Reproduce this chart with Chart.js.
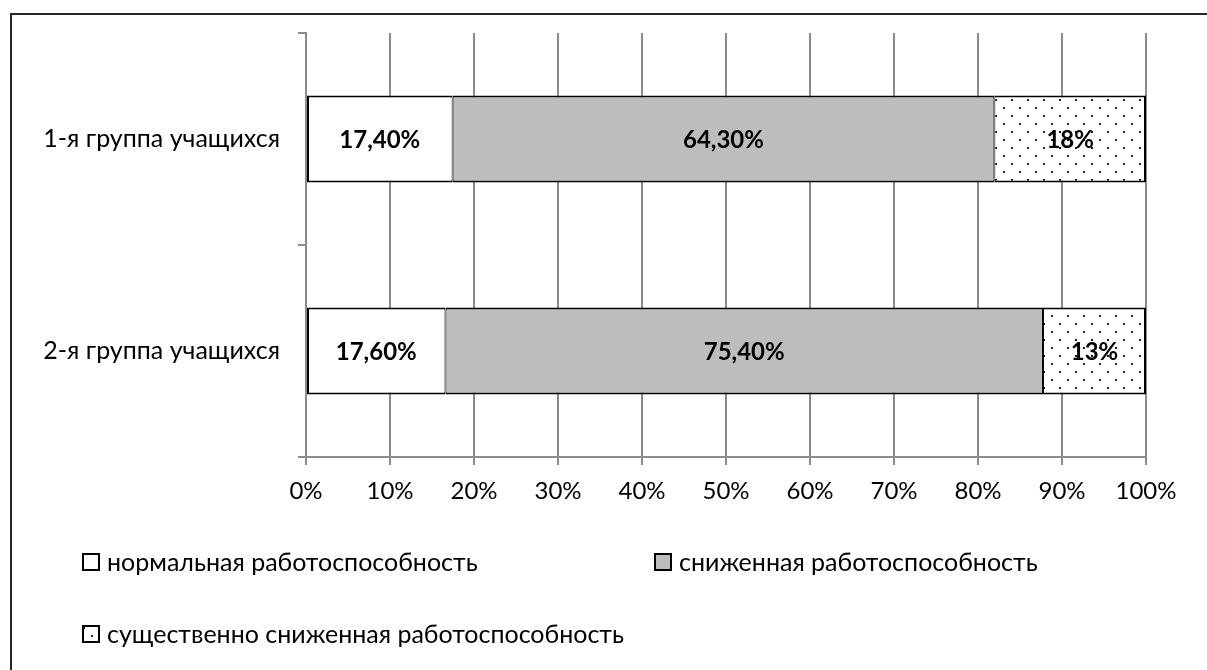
<!DOCTYPE html>
<html>
<head>
<meta charset="utf-8">
<script src="https://cdn.jsdelivr.net/npm/chart.js@4.4.1/dist/chart.umd.min.js"></script>
<style>
  html, body { margin: 0; padding: 0; background: #fff; overflow: hidden; }
  #frame { position: absolute; left: 10px; top: 13px; width: 1230px; height: 700px; border: 2px solid #262626; box-sizing: border-box; }
  #wrap { position: absolute; left: 0; top: 0; width: 1207px; height: 670px; }
</style>
</head>
<body>
<div id="frame"></div>
<div id="wrap"><canvas id="c" width="1207" height="670"></canvas></div>
<script>
// ── Данные ────────────────────────────────────────────────────────
const groups = ['1-я группа учащихся', '2-я группа учащихся'];
const seriesNames = [
  'нормальная работоспособность',
  'сниженная работоспособность',
  'существенно сниженная работоспособность',
];
const normal  = [17.4, 17.6];
const reduced = [64.3, 75.4];
const severe  = [18, 13];
const labelDecimals = [2, 2, 0];

const FONT = "Lato, 'Open Sans', 'Noto Sans', sans-serif";
const GRID = '#8c8c8c';

// доля от суммы по группе (диаграмма нормирована на 100%)
function share(arr) {
  return arr.map((v, i) => v / (normal[i] + reduced[i] + severe[i]) * 100);
}

// точечная штриховка для третьего ряда
function dotPattern() {
  const t = document.createElement('canvas');
  t.width = 16; t.height = 16;
  const g = t.getContext('2d');
  g.fillStyle = '#fff';
  g.fillRect(0, 0, 16, 16);
  g.fillStyle = '#1a1a1a';
  g.fillRect(3, 3, 2, 2);
  g.fillRect(11, 11, 2, 2);
  return g.createPattern(t, 'repeat');
}

// ── Подписи значений внутри сегментов ─────────────────────────────
const valueLabels = {
  id: 'valueLabels',
  afterDatasetsDraw(chart) {
    const ctx = chart.ctx;
    ctx.save();
    ctx.font = 'bold 24px ' + FONT;
    ctx.fillStyle = '#000';
    ctx.textAlign = 'center';
    ctx.textBaseline = 'middle';
    chart.data.datasets.forEach((ds, di) => {
      chart.getDatasetMeta(di).data.forEach((bar, i) => {
        const txt = ds.raw[i].toFixed(labelDecimals[di]).replace('.', ',') + '%';
        ctx.fillText(txt, (bar.x + bar.base) / 2, bar.y + 1);
      });
    });
    ctx.restore();
  },
};

// ── Легенда снизу (две колонки) ───────────────────────────────────
const legendSpots = [[83, 562], [655, 562], [83, 634]];
const bottomLegend = {
  id: 'bottomLegend',
  afterDraw(chart) {
    const ctx = chart.ctx;
    ctx.save();
    ctx.font = '25px ' + FONT;
    ctx.textBaseline = 'middle';
    chart.data.datasets.forEach((ds, di) => {
      const [x, y] = legendSpots[di];
      ctx.fillStyle = ds.backgroundColor;
      ctx.fillRect(x, y - 8, 16, 16);
      ctx.lineWidth = 2;
      ctx.strokeStyle = '#000';
      ctx.strokeRect(x, y - 8, 16, 16);
      ctx.fillStyle = '#000';
      ctx.fillText(ds.label, x + 24, y + 1);
    });
    ctx.restore();
  },
};

const pattern = dotPattern();
const seriesData = [share(normal), share(reduced), share(severe)];
const seriesRaw = [normal, reduced, severe];
const seriesFill = ['#ffffff', '#bdbdbd', pattern];
// на стыках сегментов по 1px с каждой стороны, снаружи 2px
const seriesBorder = [
  { left: 2, right: 1, top: 2, bottom: 2 },
  { left: 1, right: 1, top: 2, bottom: 2 },
  { left: 1, right: 2, top: 2, bottom: 2 },
];

new Chart(document.getElementById('c'), {
  type: 'bar',
  data: {
    labels: groups,
    datasets: seriesNames.map((name, k) => ({
      label: name,
      data: seriesData[k],
      raw: seriesRaw[k],
      backgroundColor: seriesFill[k],
      borderColor: '#000',
      borderWidth: seriesBorder[k],
      borderSkipped: false,
      barPercentage: 0.41,
      categoryPercentage: 1,
    })),
  },
  options: {
    indexAxis: 'y',
    responsive: false,
    animation: false,
    devicePixelRatio: 1,
    layout: { padding: { left: 0, top: 29, right: 61, bottom: 153 } },
    plugins: { legend: { display: false }, tooltip: { enabled: false } },
    scales: {
      x: {
        stacked: true, min: 0, max: 100,
        ticks: { stepSize: 10, color: '#000', padding: 12, font: { family: FONT, size: 24 }, callback: v => v + '%' },
        grid: { color: GRID, lineWidth: 2, tickLength: 8 },
        border: { color: GRID, width: 2 },
        afterFit: s => { s.height = 60; },
      },
      y: {
        stacked: true,
        ticks: { color: '#000', padding: 18, font: { family: FONT, size: 25 } },
        grid: { offset: true, drawOnChartArea: false, color: GRID, lineWidth: 2, tickLength: 8 },
        border: { color: GRID, width: 2 },
        afterFit: s => { s.width = 306; },
      },
    },
  },
  plugins: [valueLabels, bottomLegend],
});
</script>
</body>
</html>
